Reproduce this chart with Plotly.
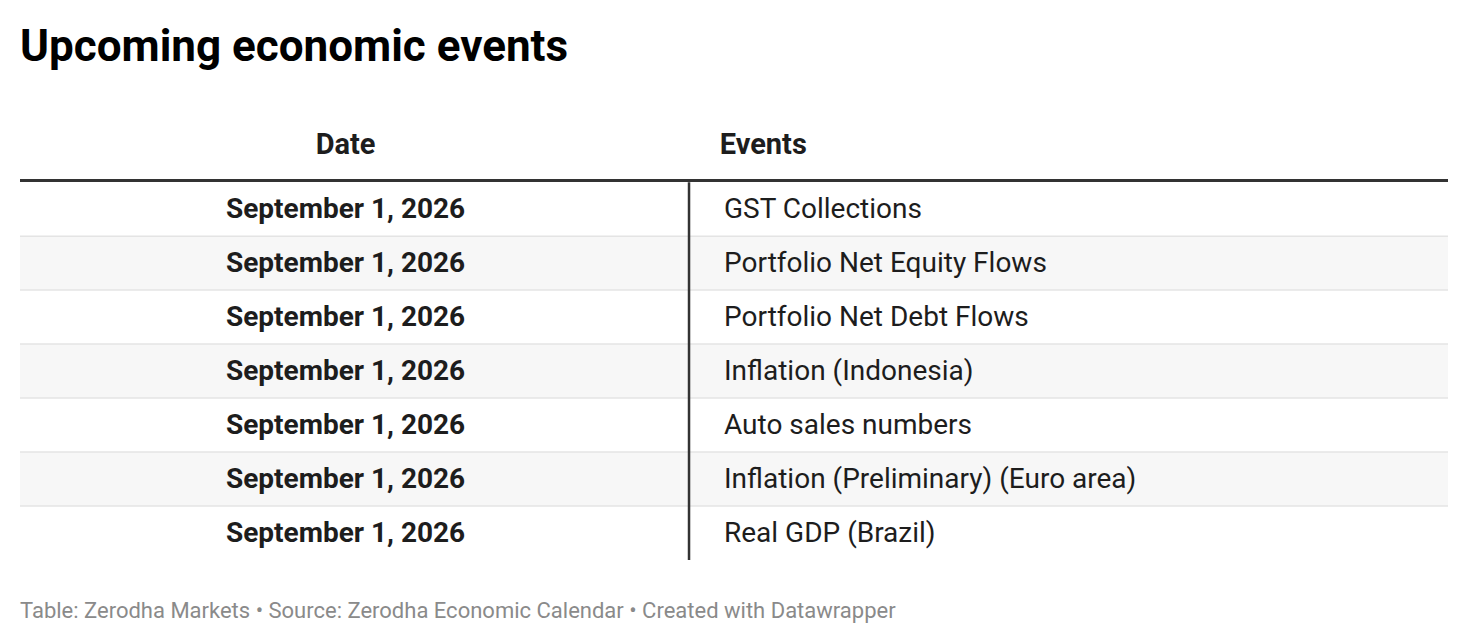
import plotly.graph_objects as go

# table content
title = "Upcoming economic events"
col_headers = ["Date", "Events"]
dates = ["September 1, 2026"] * 7
events = [
    "GST Collections",
    "Portfolio Net Equity Flows",
    "Portfolio Net Debt Flows",
    "Inflation (Indonesia)",
    "Auto sales numbers",
    "Inflation (Preliminary) (Euro area)",
    "Real GDP (Brazil)",
]
footer = "Table: Zerodha Markets • Source: Zerodha Economic Calendar • Created with Datawrapper"

FONT = "Roboto"
rows = list(range(len(events)))
divider = 0.4685      # column split as share of table width
date_x = 0.228
event_x = 0.493
header_y = -1.16
text_nudge = 0.04     # pushes cell text a touch below the row centre

# page body adds an 8px offset, so margins are trimmed to compensate
ML, MR, MT, MB = 12, 28, 104, 92
W, H = 1468, 644

fig = go.Figure()

# zebra shading on every second row
shaded = [r for r in rows if r % 2 == 1]
fig.add_trace(go.Bar(
    y=shaded, x=[1] * len(shaded), base=0, orientation="h", width=1,
    marker=dict(color="#f7f7f7", line=dict(width=0)),
    hoverinfo="skip", showlegend=False,
))

# thin row separators
for r in rows[:-1]:
    fig.add_trace(go.Scatter(
        x=[0, 1], y=[r + 0.5, r + 0.5], mode="lines",
        line=dict(color="#e4e4e4", width=1.5),
        hoverinfo="skip", showlegend=False,
    ))

# header rule
fig.add_trace(go.Scatter(
    x=[0, 1], y=[-0.53, -0.53], mode="lines",
    line=dict(color="#333333", width=3),
    hoverinfo="skip", showlegend=False,
))

# column divider
fig.add_trace(go.Scatter(
    x=[divider, divider], y=[-0.5, rows[-1] + 0.5], mode="lines",
    line=dict(color="#333333", width=2.5),
    hoverinfo="skip", showlegend=False,
))

# cell text
text_rows = [r + text_nudge for r in rows]
fig.add_trace(go.Scatter(
    x=[date_x] * len(dates), y=text_rows, text=[f"<b>{d}</b>" for d in dates],
    mode="text", textposition="middle center",
    textfont=dict(family=FONT, size=28, color="#1d1d1d"),
    hoverinfo="skip", showlegend=False,
))
fig.add_trace(go.Scatter(
    x=[event_x] * len(events), y=text_rows, text=events,
    mode="text", textposition="middle right",
    textfont=dict(family=FONT, size=28, color="#1d1d1d"),
    hoverinfo="skip", showlegend=False,
))

# header text
fig.add_trace(go.Scatter(
    x=[date_x, event_x - 0.003], y=[header_y, header_y],
    text=[f"<b>{h}</b>" for h in col_headers],
    mode="text", textposition=["middle center", "middle right"],
    textfont=dict(family=FONT, size=29, color="#1d1d1d"),
    hoverinfo="skip", showlegend=False,
))

plot_h = H - MT - MB
fig.update_layout(
    width=W, height=H,
    margin=dict(l=ML, r=MR, t=MT, b=MB),
    paper_bgcolor="white", plot_bgcolor="white",
    xaxis=dict(range=[0, 1], visible=False, fixedrange=True),
    yaxis=dict(range=[rows[-1] + 0.5, -1.8], visible=False, fixedrange=True),
    bargap=0,
    annotations=[
        dict(text=f"<b>{title}</b>", x=-0.0015, y=1 + (MT - 38) / plot_h,
             xref="paper", yref="paper",
             xanchor="left", yanchor="middle", showarrow=False,
             font=dict(family=FONT, size=44, color="#000000")),
        dict(text=footer, x=-0.0015, y=-(602 - (H - MB)) / plot_h,
             xref="paper", yref="paper",
             xanchor="left", yanchor="middle", showarrow=False,
             font=dict(family=FONT, size=22, color="#8a8a8a")),
    ],
)

fig.write_html("out.html")
